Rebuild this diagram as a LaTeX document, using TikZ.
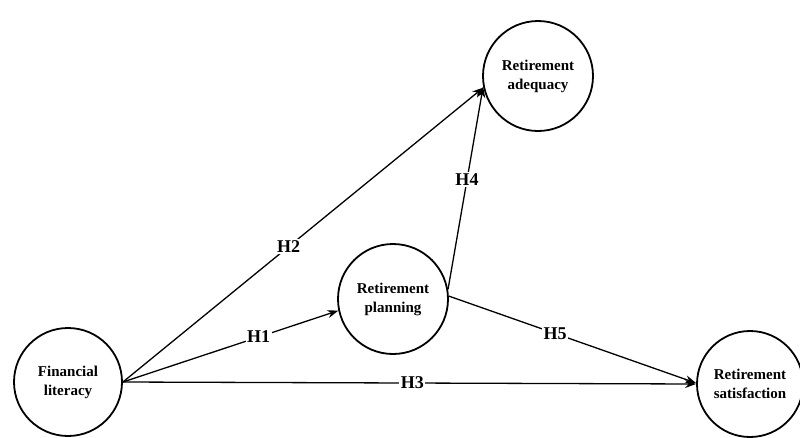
\documentclass[tikz,border=0pt]{standalone}
\usepackage{fontspec}
\setmainfont{Liberation Serif}
\usetikzlibrary{arrows.meta}
\begin{document}
\begin{tikzpicture}[x=1pt,y=-1pt,
  construct/.style={circle,draw=black,line width=1.8pt,minimum size=#1,inner sep=0pt,
     align=center,font=\bfseries\fontsize{15}{19}\selectfont},
  link/.style={line width=1.3pt,-{Stealth[length=11pt,width=8pt]}},
  hlabel/.style={fill=white,inner sep=1.5pt,font=\bfseries\fontsize{18}{20}\selectfont}]
\useasboundingbox (0,0) rectangle (800,437);
\node[construct=108pt] (fl) at (68,382) {Financial\\literacy};
\node[construct=110pt] (pl) at (393,299) {Retirement\\planning};
\node[construct=110pt] (ad) at (538,76) {Retirement\\adequacy};
\node[construct=106pt] (sa) at (750,384) {Retirement\\satisfaction};
\draw[link] (fl.east) -- node[hlabel,pos=0.46] {H2} (ad.192);
\draw[link] (fl.east) -- node[hlabel,pos=0.63] {H1} (pl.192);
\draw[link] (fl.east) -- node[hlabel,pos=0.505] {H3} (sa.west);
\draw[link] (pl.3) -- node[hlabel,pos=0.43] {H5} (sa.179);
\draw[link] (pl.10) -- node[hlabel,pos=0.54] {H4} (ad.191);
\end{tikzpicture}
\end{document}
